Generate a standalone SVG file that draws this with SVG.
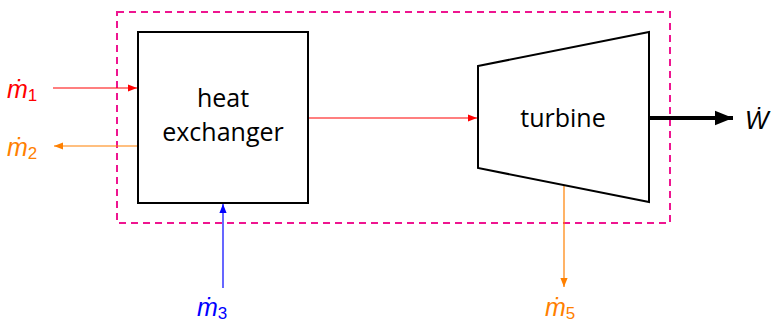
<svg xmlns="http://www.w3.org/2000/svg" width="776" height="323" viewBox="0 0 776 323">
  <style>
    .box { fill: #ffffff; stroke: #000000; stroke-width: 2; }
    .label { font-family: "Open Sans", "DejaVu Sans", sans-serif; font-size: 25px; fill: #000000; text-anchor: middle; }
    .flow { font-family: "Liberation Sans", Arial, sans-serif; font-size: 25px; font-style: italic; }
    .sub { font-style: normal; font-size: 17px; }
    .red { stroke: #ff0000; fill: none; stroke-width: 1.2; }
    .orange { stroke: #ff8000; fill: none; stroke-width: 1.2; }
    .blue { stroke: #0000ff; fill: none; stroke-width: 1.2; }
  </style>
  <defs>
    <marker id="headRed" viewBox="0 0 10 10" refX="10" refY="5" markerWidth="9" markerHeight="9" markerUnits="userSpaceOnUse" orient="auto">
      <path d="M0,1 L10,5 L0,9 Z" fill="#ff0000"/>
    </marker>
    <marker id="headOrange" viewBox="0 0 10 10" refX="10" refY="5" markerWidth="9" markerHeight="9" markerUnits="userSpaceOnUse" orient="auto">
      <path d="M0,1 L10,5 L0,9 Z" fill="#ff8000"/>
    </marker>
    <marker id="headBlue" viewBox="0 0 10 10" refX="10" refY="5" markerWidth="9" markerHeight="9" markerUnits="userSpaceOnUse" orient="auto">
      <path d="M0,1 L10,5 L0,9 Z" fill="#0000ff"/>
    </marker>
    <marker id="headBlack" viewBox="0 0 10 10" refX="10" refY="5" markerWidth="18" markerHeight="18" markerUnits="userSpaceOnUse" orient="auto">
      <path d="M0,1 L10,5 L0,9 Z" fill="#000000"/>
    </marker>
  </defs>

  <!-- system boundary -->
  <rect id="boundary" x="117" y="12" width="553" height="211" fill="none" stroke="#ee1590" stroke-width="2" stroke-dasharray="7,5"/>

  <g id="connectors">
    <line class="red" x1="53" y1="88" x2="137" y2="88" marker-end="url(#headRed)"/>
    <line class="orange" x1="138" y1="146" x2="54" y2="146" marker-end="url(#headOrange)"/>
    <line class="blue" x1="223" y1="288" x2="223" y2="204" marker-end="url(#headBlue)"/>
    <line class="red" x1="309" y1="118" x2="477" y2="118" marker-end="url(#headRed)"/>
    <line class="orange" x1="564" y1="185" x2="564" y2="287" marker-end="url(#headOrange)"/>
    <line x1="649" y1="118" x2="733" y2="118" stroke="#000000" stroke-width="4" marker-end="url(#headBlack)"/>
  </g>

  <g id="heat-exchanger">
    <rect class="box" x="138" y="32" width="170" height="171"/>
    <text class="label" x="223" y="107">heat</text>
    <text class="label" x="223" y="141">exchanger</text>
  </g>

  <g id="turbine">
    <polygon class="box" points="478,66 649,32 649,202 478,168"/>
    <text class="label" x="563" y="127">turbine</text>
  </g>

  <g id="flow-labels">
    <text class="flow" x="7" y="98" fill="#ff0000">ṁ<tspan class="sub" dy="3">1</tspan></text>
    <text class="flow" x="7" y="156" fill="#ff8000">ṁ<tspan class="sub" dy="3">2</tspan></text>
    <text class="flow" x="197" y="316" fill="#0000ff">ṁ<tspan class="sub" dy="3">3</tspan></text>
    <text class="flow" x="545" y="316" fill="#ff8000">ṁ<tspan class="sub" dy="3">5</tspan></text>
    <text class="flow" x="745" y="129" fill="#000000" font-size="27">Ẇ</text>
  </g>
</svg>
